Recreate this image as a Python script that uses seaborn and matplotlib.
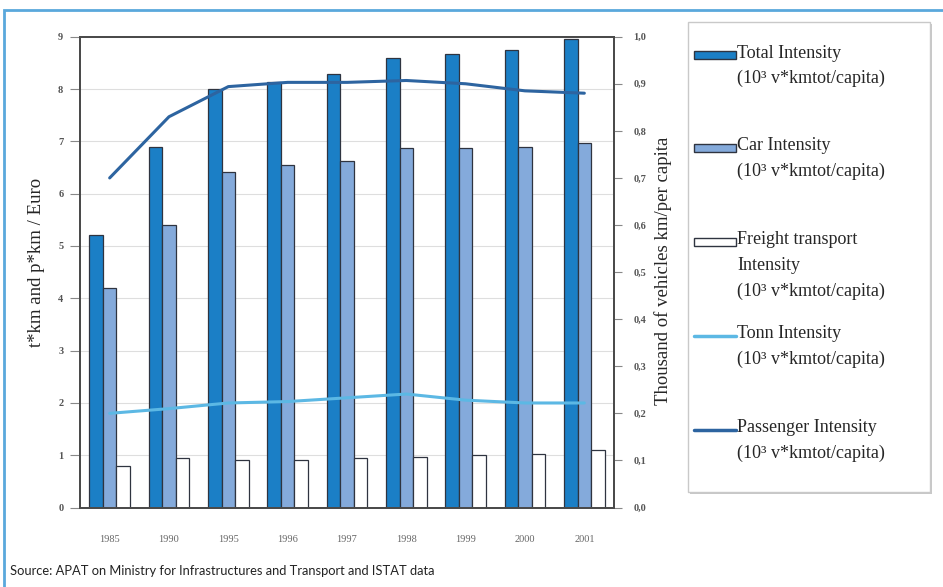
import numpy as np
import pandas as pd
import matplotlib
matplotlib.use('Agg')
import matplotlib.pyplot as plt
import seaborn as sns
from matplotlib.patches import Rectangle
from matplotlib.lines import Line2D

# Dane
years = ['1985', '1990', '1995', '1996', '1997', '1998', '1999', '2000', '2001']
total_int = [5.2, 6.9, 8.0, 8.13, 8.29, 8.59, 8.66, 8.75, 8.96]
car_int = [4.2, 5.4, 6.41, 6.54, 6.63, 6.87, 6.87, 6.89, 6.97]
freight_int = [0.80, 0.94, 0.91, 0.90, 0.94, 0.97, 1.0, 1.02, 1.10]
tonn_int = [0.20, 0.21, 0.222, 0.225, 0.233, 0.241, 0.228, 0.222, 0.222]
pass_int = [0.70, 0.83, 0.894, 0.903, 0.903, 0.907, 0.90, 0.885, 0.88]

left_ticks = [str(i) for i in range(10)]
right_ticks = ['0,0', '0,1', '0,2', '0,3', '0,4', '0,5', '0,6', '0,7', '0,8', '0,9', '1,0']

unit = '(10³ v*kmtot/capita)'
bar_names = ['Total Intensity', 'Car Intensity', 'Freight transport']
c_total = '#1b7fc6'
c_car = '#84aadb'
c_freight = '#ffffff'
c_tonn = '#5cb8e4'
c_pass = '#2d64a0'

df = pd.DataFrame({
    'year': years * 3,
    'value': total_int + car_int + freight_int,
    'series': [bar_names[0]] * 9 + [bar_names[1]] * 9 + [bar_names[2]] * 9,
})

sns.set_style('white')
plt.rcParams['font.family'] = ['Liberation Serif', 'DejaVu Serif']

fig = plt.figure(figsize=(9.43, 5.87), dpi=100)
ax = fig.add_axes([80 / 943, 1 - 507.5 / 587, 534 / 943, 470.8 / 587])

sns.barplot(data=df, x='year', y='value', hue='series', order=years,
            hue_order=bar_names,
            palette={bar_names[0]: c_total, bar_names[1]: c_car, bar_names[2]: c_freight},
            width=0.68, edgecolor='#2f3440', linewidth=0.9, saturation=1,
            legend=False, ax=ax)
ax.set_ylim(0, 9)
ax.set_yticks(range(10))
ax.set_yticklabels(left_ticks, fontsize=7.5, color='#555555', fontweight='bold')
ax.set_xticks(range(9))
ax.set_xticklabels(years, fontsize=7.5, color='#666666')
ax.tick_params(axis='y', direction='out', length=7, color='#888888', width=0.8, pad=5)
ax.tick_params(axis='x', length=0, pad=20)
ax.yaxis.grid(True, color='#dedede', linewidth=0.8)
ax.set_axisbelow(True)
ax.set_xlabel('')
ax.set_ylabel('')
for s in ax.spines.values():
    s.set_color('#4a4a4a')
    s.set_linewidth(1.3)

ax2 = ax.twinx()
xs = np.arange(9)
sns.lineplot(x=xs, y=tonn_int, ax=ax2, color=c_tonn, linewidth=2.2)
sns.lineplot(x=xs, y=pass_int, ax=ax2, color=c_pass, linewidth=2.2)
ax2.set_ylim(0, 1.0)
ax2.set_yticks(np.linspace(0, 1, 11))
ax2.set_yticklabels(right_ticks, fontsize=7.5, color='#555555', fontweight='bold')
ax2.tick_params(axis='y', direction='out', length=6, color='#888888', width=0.8, pad=8)
ax2.set_xlim(-0.5, 8.5)
ax.set_xlim(-0.5, 8.5)
for s in ax2.spines.values():
    s.set_color('#4a4a4a')
    s.set_linewidth(1.3)

fig.text(37 / 943, 1 - 262 / 587, 't*km and p*km / Euro', rotation=90,
         ha='center', va='center', fontsize=13.5)
fig.text(663 / 943, 1 - 271 / 587, 'Thousand of vehicles km/per capita', rotation=90,
         ha='center', va='center', fontsize=13.5)

# legenda rysowana recznie
fig.patches.append(Rectangle((690 / 943, 1 - 494 / 587), 242 / 943, 470 / 587,
                             transform=fig.transFigure, facecolor='#c8c8c8',
                             edgecolor='none', zorder=0))
fig.patches.append(Rectangle((688 / 943, 1 - 492 / 587), 242 / 943, 470 / 587,
                             transform=fig.transFigure, facecolor='white',
                             edgecolor='#c9c9c9', linewidth=1, zorder=1))
entries = [
    ('bar', c_total, ['Total Intensity', unit], 53),
    ('bar', c_car, ['Car Intensity', unit], 146),
    ('bar', c_freight, ['Freight transport', 'Intensity', unit], 240),
    ('line', c_tonn, ['Tonn Intensity', unit], 334),
    ('line', c_pass, ['Passenger Intensity', unit], 428),
]
for kind, col, lines, ytop in entries:
    yh = 1 - (ytop + 2) / 587
    if kind == 'bar':
        fig.patches.append(Rectangle((694 / 943, yh - 4 / 587), 42 / 943, 8 / 587,
                                     transform=fig.transFigure, facecolor=col,
                                     edgecolor='#2f3440', linewidth=1, zorder=2))
    else:
        fig.lines.append(Line2D([694 / 943, 736 / 943], [yh, yh], transform=fig.transFigure,
                                color=col, linewidth=2.5, zorder=2))
    for i, t in enumerate(lines):
        fig.text(737 / 943, 1 - (ytop + i * 25.5) / 587, t, ha='left', va='center', fontsize=13)

fig.text(10 / 943, 1 - 571 / 587,
         'Source: APAT on Ministry for Infrastructures and Transport and ISTAT data',
         family=['Lato', 'DejaVu Sans'], fontsize=9.3, color='#222222',
         ha='left', va='center')

# niebieska ramka
fig.patches.append(Rectangle((4 / 943, -0.05), 1.1, 1 - 10 / 587 + 0.05,
                             transform=fig.transFigure, facecolor='none',
                             edgecolor='#5aa8dc', linewidth=2, zorder=5))

fig.savefig('out.png', dpi=100)
